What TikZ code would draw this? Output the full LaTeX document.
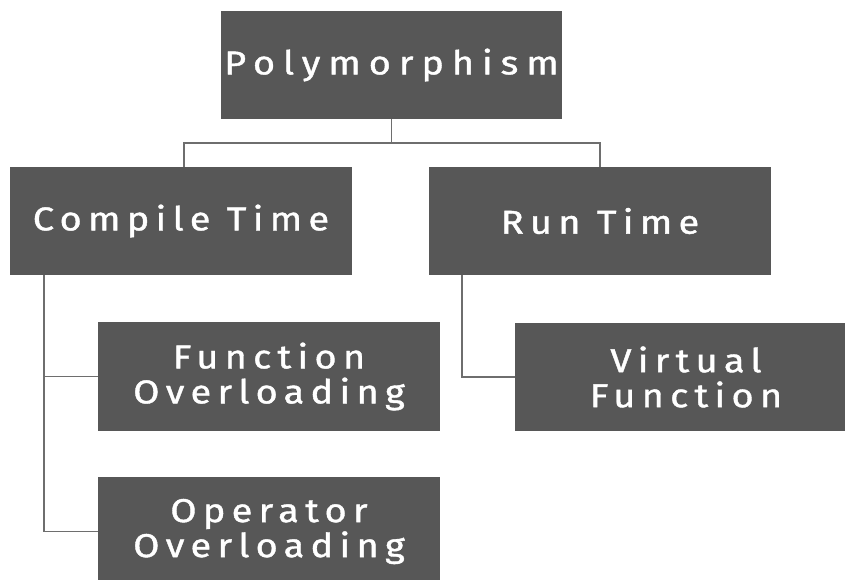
\documentclass[tikz,border=0pt]{standalone}
\usepackage{fontspec}
\setmainfont{Fira Sans}[LetterSpace=19, FakeStretch=1.15, FakeBold=1.2]
\usetikzlibrary{calc}
\definecolor{boxfill}{HTML}{575757}
\definecolor{linecol}{HTML}{6E6E6E}
\tikzset{
  box/.style={rectangle, fill=boxfill, draw=none, text=white, minimum width=342pt,
    minimum height=108pt, align=center, inner sep=0pt,
    font=\fontsize{33pt}{35pt}\selectfont},
  conn/.style={draw=linecol, line width=1.6pt}
}
\begin{document}
\begin{tikzpicture}[x=1pt,y=-1pt]
\useasboundingbox (0,0) rectangle (845,579);
\clip (0,0) rectangle (845,579);
\fill[white] (0,0) rectangle (845,579);
\node[box, minimum width=341pt] (poly) at (391.5,65) {\addfontfeature{LetterSpace=24}Polymorphism};
\node[box] (compile) at (181,221) {Compile Time};
\node[box] (run) at (600,221) {Run Time};
\node[box, minimum height=109pt] (fo) at (269,376.5) {Function\\Overloading};
\node[box, minimum height=109pt] (oo) at (269,531.5) {Operator\\Overloading};
\node[box, minimum height=108pt] (vf) at (686,377) {Virtual\\Function};
\coordinate (split) at ($(poly.south)+(0,24)$);
\draw[conn] (poly.south) -- (split);
\draw[conn] (split) -| ([xshift=3pt]compile.north);
\draw[conn] (split) -| (run.north);
\draw[conn] ([xshift=34pt]compile.south west) |- (fo.west);
\draw[conn] ([xshift=34pt]compile.south west) |- (oo.west);
\draw[conn] ([xshift=33pt]run.south west) |- (vf.west);
\end{tikzpicture}
\end{document}
